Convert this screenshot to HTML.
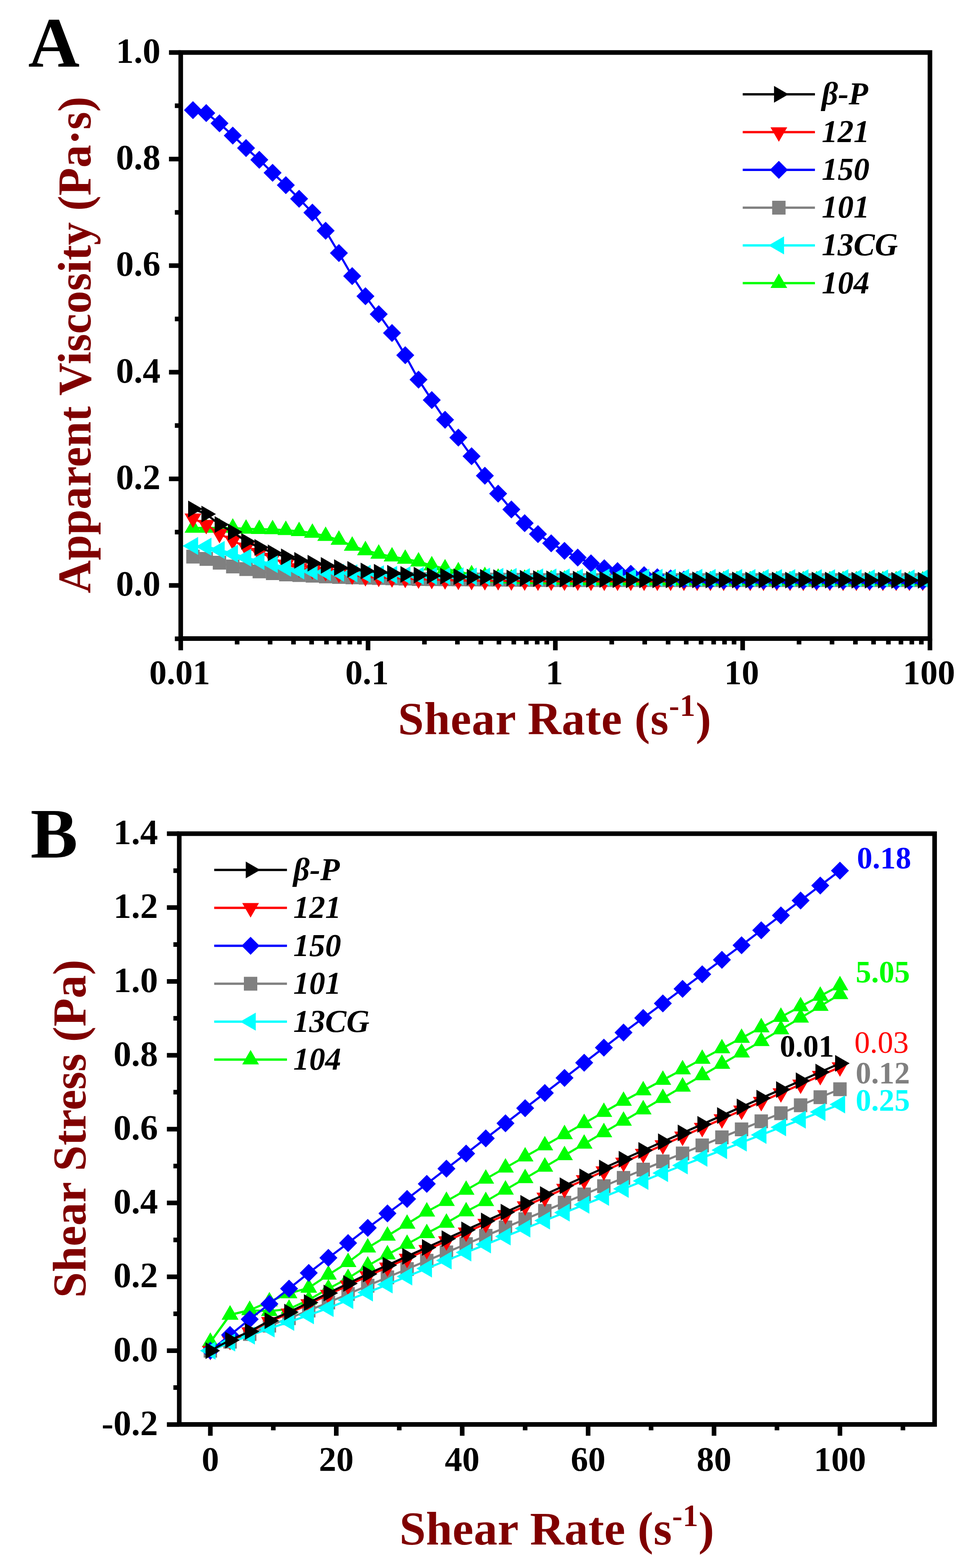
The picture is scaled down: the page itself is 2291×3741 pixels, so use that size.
<!DOCTYPE html><html><head><meta charset="utf-8"><style>html,body{margin:0;padding:0;background:#fff}svg{display:block}text{font-family:"Liberation Serif", "Times New Roman", serif}</style></head><body>
<svg width="2291" height="3741" viewBox="0 0 2291 3741">
<rect width="2291" height="3741" fill="#fff"/>
<clipPath id="ca"><rect x="431.3" y="125.3" width="1788.0000000000002" height="1398.2"/></clipPath>
<g clip-path="url(#ca)">
<polyline fill="none" stroke="#808080" stroke-width="5" stroke-linejoin="round" points="460.5,1328.0 492.2,1333.4 523.8,1342.6 555.5,1351.4 587.2,1357.7 618.8,1363.3 650.5,1367.4 682.1,1370.6 713.8,1371.9 745.5,1373.5 777.1,1375.2 808.8,1376.6 840.5,1377.4 872.1,1378.2 903.8,1379.0 935.5,1379.8 967.1,1380.6 998.8,1381.4 1030.4,1381.7 1062.1,1382.0 1093.8,1382.2 1125.4,1382.5 1157.1,1382.8 1188.8,1383.0 1220.4,1383.3 1252.1,1383.6 1283.8,1383.8 1315.4,1384.0 1347.1,1384.0 1378.7,1384.0 1410.4,1384.0 1442.1,1384.0 1473.7,1384.0 1505.4,1384.0 1537.1,1384.0 1568.7,1384.0 1600.4,1384.0 1632.1,1384.0 1663.7,1384.0 1695.4,1384.0 1727.0,1384.0 1758.7,1384.0 1790.4,1384.0 1822.0,1384.0 1853.7,1384.0 1885.4,1384.0 1917.0,1384.0 1948.7,1384.0 1980.4,1384.0 2012.0,1384.0 2043.7,1384.0 2075.3,1384.0 2107.0,1384.0 2138.7,1384.0 2170.3,1384.0 2202.0,1384.0"/><polygon points="444.5,1311.5 476.5,1311.5 476.5,1344.5 444.5,1344.5" fill="#808080"/><polygon points="476.2,1316.9 508.2,1316.9 508.2,1349.9 476.2,1349.9" fill="#808080"/><polygon points="507.8,1326.1 539.8,1326.1 539.8,1359.1 507.8,1359.1" fill="#808080"/><polygon points="539.5,1334.9 571.5,1334.9 571.5,1367.9 539.5,1367.9" fill="#808080"/><polygon points="571.2,1341.2 603.2,1341.2 603.2,1374.2 571.2,1374.2" fill="#808080"/><polygon points="602.8,1346.8 634.8,1346.8 634.8,1379.8 602.8,1379.8" fill="#808080"/><polygon points="634.5,1350.9 666.5,1350.9 666.5,1383.9 634.5,1383.9" fill="#808080"/><polygon points="666.1,1354.1 698.1,1354.1 698.1,1387.1 666.1,1387.1" fill="#808080"/><polygon points="697.8,1355.4 729.8,1355.4 729.8,1388.4 697.8,1388.4" fill="#808080"/><polygon points="729.5,1357.0 761.5,1357.0 761.5,1390.0 729.5,1390.0" fill="#808080"/><polygon points="761.1,1358.7 793.1,1358.7 793.1,1391.7 761.1,1391.7" fill="#808080"/><polygon points="792.8,1360.1 824.8,1360.1 824.8,1393.1 792.8,1393.1" fill="#808080"/><polygon points="824.5,1360.9 856.5,1360.9 856.5,1393.9 824.5,1393.9" fill="#808080"/><polygon points="856.1,1361.7 888.1,1361.7 888.1,1394.7 856.1,1394.7" fill="#808080"/><polygon points="887.8,1362.5 919.8,1362.5 919.8,1395.5 887.8,1395.5" fill="#808080"/><polygon points="919.5,1363.3 951.5,1363.3 951.5,1396.3 919.5,1396.3" fill="#808080"/><polygon points="951.1,1364.1 983.1,1364.1 983.1,1397.1 951.1,1397.1" fill="#808080"/><polygon points="982.8,1364.9 1014.8,1364.9 1014.8,1397.9 982.8,1397.9" fill="#808080"/><polygon points="1014.4,1365.2 1046.4,1365.2 1046.4,1398.2 1014.4,1398.2" fill="#808080"/><polygon points="1046.1,1365.5 1078.1,1365.5 1078.1,1398.5 1046.1,1398.5" fill="#808080"/><polygon points="1077.8,1365.7 1109.8,1365.7 1109.8,1398.7 1077.8,1398.7" fill="#808080"/><polygon points="1109.4,1366.0 1141.4,1366.0 1141.4,1399.0 1109.4,1399.0" fill="#808080"/><polygon points="1141.1,1366.3 1173.1,1366.3 1173.1,1399.3 1141.1,1399.3" fill="#808080"/><polygon points="1172.8,1366.5 1204.8,1366.5 1204.8,1399.5 1172.8,1399.5" fill="#808080"/><polygon points="1204.4,1366.8 1236.4,1366.8 1236.4,1399.8 1204.4,1399.8" fill="#808080"/><polygon points="1236.1,1367.1 1268.1,1367.1 1268.1,1400.1 1236.1,1400.1" fill="#808080"/><polygon points="1267.8,1367.3 1299.8,1367.3 1299.8,1400.3 1267.8,1400.3" fill="#808080"/><polygon points="1299.4,1367.5 1331.4,1367.5 1331.4,1400.5 1299.4,1400.5" fill="#808080"/><polygon points="1331.1,1367.5 1363.1,1367.5 1363.1,1400.5 1331.1,1400.5" fill="#808080"/><polygon points="1362.7,1367.5 1394.7,1367.5 1394.7,1400.5 1362.7,1400.5" fill="#808080"/><polygon points="1394.4,1367.5 1426.4,1367.5 1426.4,1400.5 1394.4,1400.5" fill="#808080"/><polygon points="1426.1,1367.5 1458.1,1367.5 1458.1,1400.5 1426.1,1400.5" fill="#808080"/><polygon points="1457.7,1367.5 1489.7,1367.5 1489.7,1400.5 1457.7,1400.5" fill="#808080"/><polygon points="1489.4,1367.5 1521.4,1367.5 1521.4,1400.5 1489.4,1400.5" fill="#808080"/><polygon points="1521.1,1367.5 1553.1,1367.5 1553.1,1400.5 1521.1,1400.5" fill="#808080"/><polygon points="1552.7,1367.5 1584.7,1367.5 1584.7,1400.5 1552.7,1400.5" fill="#808080"/><polygon points="1584.4,1367.5 1616.4,1367.5 1616.4,1400.5 1584.4,1400.5" fill="#808080"/><polygon points="1616.1,1367.5 1648.1,1367.5 1648.1,1400.5 1616.1,1400.5" fill="#808080"/><polygon points="1647.7,1367.5 1679.7,1367.5 1679.7,1400.5 1647.7,1400.5" fill="#808080"/><polygon points="1679.4,1367.5 1711.4,1367.5 1711.4,1400.5 1679.4,1400.5" fill="#808080"/><polygon points="1711.0,1367.5 1743.0,1367.5 1743.0,1400.5 1711.0,1400.5" fill="#808080"/><polygon points="1742.7,1367.5 1774.7,1367.5 1774.7,1400.5 1742.7,1400.5" fill="#808080"/><polygon points="1774.4,1367.5 1806.4,1367.5 1806.4,1400.5 1774.4,1400.5" fill="#808080"/><polygon points="1806.0,1367.5 1838.0,1367.5 1838.0,1400.5 1806.0,1400.5" fill="#808080"/><polygon points="1837.7,1367.5 1869.7,1367.5 1869.7,1400.5 1837.7,1400.5" fill="#808080"/><polygon points="1869.4,1367.5 1901.4,1367.5 1901.4,1400.5 1869.4,1400.5" fill="#808080"/><polygon points="1901.0,1367.5 1933.0,1367.5 1933.0,1400.5 1901.0,1400.5" fill="#808080"/><polygon points="1932.7,1367.5 1964.7,1367.5 1964.7,1400.5 1932.7,1400.5" fill="#808080"/><polygon points="1964.4,1367.5 1996.4,1367.5 1996.4,1400.5 1964.4,1400.5" fill="#808080"/><polygon points="1996.0,1367.5 2028.0,1367.5 2028.0,1400.5 1996.0,1400.5" fill="#808080"/><polygon points="2027.7,1367.5 2059.7,1367.5 2059.7,1400.5 2027.7,1400.5" fill="#808080"/><polygon points="2059.3,1367.5 2091.3,1367.5 2091.3,1400.5 2059.3,1400.5" fill="#808080"/><polygon points="2091.0,1367.5 2123.0,1367.5 2123.0,1400.5 2091.0,1400.5" fill="#808080"/><polygon points="2122.7,1367.5 2154.7,1367.5 2154.7,1400.5 2122.7,1400.5" fill="#808080"/><polygon points="2154.3,1367.5 2186.3,1367.5 2186.3,1400.5 2154.3,1400.5" fill="#808080"/><polygon points="2186.0,1367.5 2218.0,1367.5 2218.0,1400.5 2186.0,1400.5" fill="#808080"/>
<polyline fill="none" stroke="#00ff00" stroke-width="5" stroke-linejoin="round" points="460.5,1259.4 492.2,1259.4 523.8,1259.4 555.5,1259.4 587.2,1261.8 618.8,1262.5 650.5,1263.1 682.1,1264.9 713.8,1267.5 745.5,1271.5 777.1,1279.1 808.8,1288.2 840.5,1302.4 872.1,1313.2 903.8,1321.4 935.5,1328.1 967.1,1333.5 998.8,1340.0 1030.4,1349.3 1062.1,1356.7 1093.8,1363.7 1125.4,1370.7 1157.1,1374.9 1188.8,1378.8 1220.4,1380.6 1252.1,1381.3 1283.8,1382.0 1315.4,1382.7 1347.1,1383.4 1378.7,1384.1 1410.4,1384.6 1442.1,1384.7 1473.7,1384.7 1505.4,1384.7 1537.1,1384.7 1568.7,1384.8 1600.4,1384.8 1632.1,1384.8 1663.7,1384.8 1695.4,1384.9 1727.0,1384.9 1758.7,1384.9 1790.4,1384.9 1822.0,1385.0 1853.7,1385.0 1885.4,1385.0 1917.0,1385.0 1948.7,1385.1 1980.4,1385.1 2012.0,1385.1 2043.7,1385.1 2075.3,1385.2 2107.0,1385.2 2138.7,1385.2 2170.3,1385.2 2202.0,1385.3"/><polygon points="440.5,1270.9 480.5,1270.9 460.5,1236.3" fill="#00ff00"/><polygon points="472.2,1270.9 512.2,1270.9 492.2,1236.3" fill="#00ff00"/><polygon points="503.8,1270.9 543.8,1270.9 523.8,1236.3" fill="#00ff00"/><polygon points="535.5,1270.9 575.5,1270.9 555.5,1236.3" fill="#00ff00"/><polygon points="567.2,1273.3 607.2,1273.3 587.2,1238.7" fill="#00ff00"/><polygon points="598.8,1274.0 638.8,1274.0 618.8,1239.4" fill="#00ff00"/><polygon points="630.5,1274.6 670.5,1274.6 650.5,1240.0" fill="#00ff00"/><polygon points="662.1,1276.4 702.1,1276.4 682.1,1241.8" fill="#00ff00"/><polygon points="693.8,1279.0 733.8,1279.0 713.8,1244.4" fill="#00ff00"/><polygon points="725.5,1283.0 765.5,1283.0 745.5,1248.4" fill="#00ff00"/><polygon points="757.1,1290.6 797.1,1290.6 777.1,1256.0" fill="#00ff00"/><polygon points="788.8,1299.7 828.8,1299.7 808.8,1265.1" fill="#00ff00"/><polygon points="820.5,1313.9 860.5,1313.9 840.5,1279.3" fill="#00ff00"/><polygon points="852.1,1324.7 892.1,1324.7 872.1,1290.1" fill="#00ff00"/><polygon points="883.8,1332.9 923.8,1332.9 903.8,1298.3" fill="#00ff00"/><polygon points="915.5,1339.6 955.5,1339.6 935.5,1305.0" fill="#00ff00"/><polygon points="947.1,1345.0 987.1,1345.0 967.1,1310.4" fill="#00ff00"/><polygon points="978.8,1351.5 1018.8,1351.5 998.8,1316.9" fill="#00ff00"/><polygon points="1010.4,1360.8 1050.4,1360.8 1030.4,1326.2" fill="#00ff00"/><polygon points="1042.1,1368.2 1082.1,1368.2 1062.1,1333.6" fill="#00ff00"/><polygon points="1073.8,1375.2 1113.8,1375.2 1093.8,1340.6" fill="#00ff00"/><polygon points="1105.4,1382.2 1145.4,1382.2 1125.4,1347.6" fill="#00ff00"/><polygon points="1137.1,1386.4 1177.1,1386.4 1157.1,1351.8" fill="#00ff00"/><polygon points="1168.8,1390.3 1208.8,1390.3 1188.8,1355.7" fill="#00ff00"/><polygon points="1200.4,1392.1 1240.4,1392.1 1220.4,1357.5" fill="#00ff00"/><polygon points="1232.1,1392.8 1272.1,1392.8 1252.1,1358.2" fill="#00ff00"/><polygon points="1263.8,1393.5 1303.8,1393.5 1283.8,1358.9" fill="#00ff00"/><polygon points="1295.4,1394.2 1335.4,1394.2 1315.4,1359.6" fill="#00ff00"/><polygon points="1327.1,1394.9 1367.1,1394.9 1347.1,1360.3" fill="#00ff00"/><polygon points="1358.7,1395.6 1398.7,1395.6 1378.7,1361.0" fill="#00ff00"/><polygon points="1390.4,1396.1 1430.4,1396.1 1410.4,1361.5" fill="#00ff00"/><polygon points="1422.1,1396.2 1462.1,1396.2 1442.1,1361.6" fill="#00ff00"/><polygon points="1453.7,1396.2 1493.7,1396.2 1473.7,1361.6" fill="#00ff00"/><polygon points="1485.4,1396.2 1525.4,1396.2 1505.4,1361.6" fill="#00ff00"/><polygon points="1517.1,1396.2 1557.1,1396.2 1537.1,1361.6" fill="#00ff00"/><polygon points="1548.7,1396.3 1588.7,1396.3 1568.7,1361.7" fill="#00ff00"/><polygon points="1580.4,1396.3 1620.4,1396.3 1600.4,1361.7" fill="#00ff00"/><polygon points="1612.1,1396.3 1652.1,1396.3 1632.1,1361.7" fill="#00ff00"/><polygon points="1643.7,1396.3 1683.7,1396.3 1663.7,1361.7" fill="#00ff00"/><polygon points="1675.4,1396.4 1715.4,1396.4 1695.4,1361.8" fill="#00ff00"/><polygon points="1707.0,1396.4 1747.0,1396.4 1727.0,1361.8" fill="#00ff00"/><polygon points="1738.7,1396.4 1778.7,1396.4 1758.7,1361.8" fill="#00ff00"/><polygon points="1770.4,1396.4 1810.4,1396.4 1790.4,1361.8" fill="#00ff00"/><polygon points="1802.0,1396.5 1842.0,1396.5 1822.0,1361.9" fill="#00ff00"/><polygon points="1833.7,1396.5 1873.7,1396.5 1853.7,1361.9" fill="#00ff00"/><polygon points="1865.4,1396.5 1905.4,1396.5 1885.4,1361.9" fill="#00ff00"/><polygon points="1897.0,1396.5 1937.0,1396.5 1917.0,1361.9" fill="#00ff00"/><polygon points="1928.7,1396.6 1968.7,1396.6 1948.7,1362.0" fill="#00ff00"/><polygon points="1960.4,1396.6 2000.4,1396.6 1980.4,1362.0" fill="#00ff00"/><polygon points="1992.0,1396.6 2032.0,1396.6 2012.0,1362.0" fill="#00ff00"/><polygon points="2023.7,1396.6 2063.7,1396.6 2043.7,1362.0" fill="#00ff00"/><polygon points="2055.3,1396.7 2095.3,1396.7 2075.3,1362.1" fill="#00ff00"/><polygon points="2087.0,1396.7 2127.0,1396.7 2107.0,1362.1" fill="#00ff00"/><polygon points="2118.7,1396.7 2158.7,1396.7 2138.7,1362.1" fill="#00ff00"/><polygon points="2150.3,1396.7 2190.3,1396.7 2170.3,1362.1" fill="#00ff00"/><polygon points="2182.0,1396.8 2222.0,1396.8 2202.0,1362.2" fill="#00ff00"/>
<polyline fill="none" stroke="#ff0000" stroke-width="5" stroke-linejoin="round" points="460.5,1236.7 492.2,1251.9 523.8,1273.2 555.5,1289.6 587.2,1306.0 618.8,1318.7 650.5,1330.4 682.1,1346.7 713.8,1355.3 745.5,1359.8 777.1,1364.1 808.8,1368.4 840.5,1372.4 872.1,1376.4 903.8,1377.8 935.5,1379.1 967.1,1380.4 998.8,1381.8 1030.4,1382.9 1062.1,1384.0 1093.8,1385.0 1125.4,1385.5 1157.1,1385.8 1188.8,1386.0 1220.4,1386.3 1252.1,1386.6 1283.8,1386.9 1315.4,1387.0 1347.1,1387.0 1378.7,1387.0 1410.4,1387.1 1442.1,1387.1 1473.7,1387.1 1505.4,1387.1 1537.1,1387.1 1568.7,1387.1 1600.4,1387.1 1632.1,1387.1 1663.7,1387.1 1695.4,1387.1 1727.0,1387.1 1758.7,1387.1 1790.4,1387.1 1822.0,1387.1 1853.7,1387.1 1885.4,1387.1 1917.0,1387.1 1948.7,1387.1 1980.4,1387.1 2012.0,1387.1 2043.7,1387.1 2075.3,1387.1 2107.0,1387.1 2138.7,1387.2 2170.3,1387.2 2202.0,1387.2"/><polygon points="440.5,1225.2 480.5,1225.2 460.5,1259.8" fill="#ff0000"/><polygon points="472.2,1240.4 512.2,1240.4 492.2,1275.0" fill="#ff0000"/><polygon points="503.8,1261.7 543.8,1261.7 523.8,1296.3" fill="#ff0000"/><polygon points="535.5,1278.1 575.5,1278.1 555.5,1312.7" fill="#ff0000"/><polygon points="567.2,1294.5 607.2,1294.5 587.2,1329.1" fill="#ff0000"/><polygon points="598.8,1307.2 638.8,1307.2 618.8,1341.8" fill="#ff0000"/><polygon points="630.5,1318.9 670.5,1318.9 650.5,1353.5" fill="#ff0000"/><polygon points="662.1,1335.2 702.1,1335.2 682.1,1369.8" fill="#ff0000"/><polygon points="693.8,1343.8 733.8,1343.8 713.8,1378.4" fill="#ff0000"/><polygon points="725.5,1348.3 765.5,1348.3 745.5,1382.9" fill="#ff0000"/><polygon points="757.1,1352.6 797.1,1352.6 777.1,1387.2" fill="#ff0000"/><polygon points="788.8,1356.9 828.8,1356.9 808.8,1391.5" fill="#ff0000"/><polygon points="820.5,1360.9 860.5,1360.9 840.5,1395.5" fill="#ff0000"/><polygon points="852.1,1364.9 892.1,1364.9 872.1,1399.5" fill="#ff0000"/><polygon points="883.8,1366.3 923.8,1366.3 903.8,1400.9" fill="#ff0000"/><polygon points="915.5,1367.6 955.5,1367.6 935.5,1402.2" fill="#ff0000"/><polygon points="947.1,1368.9 987.1,1368.9 967.1,1403.5" fill="#ff0000"/><polygon points="978.8,1370.3 1018.8,1370.3 998.8,1404.9" fill="#ff0000"/><polygon points="1010.4,1371.4 1050.4,1371.4 1030.4,1406.0" fill="#ff0000"/><polygon points="1042.1,1372.5 1082.1,1372.5 1062.1,1407.1" fill="#ff0000"/><polygon points="1073.8,1373.5 1113.8,1373.5 1093.8,1408.1" fill="#ff0000"/><polygon points="1105.4,1374.0 1145.4,1374.0 1125.4,1408.6" fill="#ff0000"/><polygon points="1137.1,1374.3 1177.1,1374.3 1157.1,1408.9" fill="#ff0000"/><polygon points="1168.8,1374.5 1208.8,1374.5 1188.8,1409.1" fill="#ff0000"/><polygon points="1200.4,1374.8 1240.4,1374.8 1220.4,1409.4" fill="#ff0000"/><polygon points="1232.1,1375.1 1272.1,1375.1 1252.1,1409.7" fill="#ff0000"/><polygon points="1263.8,1375.4 1303.8,1375.4 1283.8,1410.0" fill="#ff0000"/><polygon points="1295.4,1375.5 1335.4,1375.5 1315.4,1410.1" fill="#ff0000"/><polygon points="1327.1,1375.5 1367.1,1375.5 1347.1,1410.1" fill="#ff0000"/><polygon points="1358.7,1375.5 1398.7,1375.5 1378.7,1410.1" fill="#ff0000"/><polygon points="1390.4,1375.6 1430.4,1375.6 1410.4,1410.2" fill="#ff0000"/><polygon points="1422.1,1375.6 1462.1,1375.6 1442.1,1410.2" fill="#ff0000"/><polygon points="1453.7,1375.6 1493.7,1375.6 1473.7,1410.2" fill="#ff0000"/><polygon points="1485.4,1375.6 1525.4,1375.6 1505.4,1410.2" fill="#ff0000"/><polygon points="1517.1,1375.6 1557.1,1375.6 1537.1,1410.2" fill="#ff0000"/><polygon points="1548.7,1375.6 1588.7,1375.6 1568.7,1410.2" fill="#ff0000"/><polygon points="1580.4,1375.6 1620.4,1375.6 1600.4,1410.2" fill="#ff0000"/><polygon points="1612.1,1375.6 1652.1,1375.6 1632.1,1410.2" fill="#ff0000"/><polygon points="1643.7,1375.6 1683.7,1375.6 1663.7,1410.2" fill="#ff0000"/><polygon points="1675.4,1375.6 1715.4,1375.6 1695.4,1410.2" fill="#ff0000"/><polygon points="1707.0,1375.6 1747.0,1375.6 1727.0,1410.2" fill="#ff0000"/><polygon points="1738.7,1375.6 1778.7,1375.6 1758.7,1410.2" fill="#ff0000"/><polygon points="1770.4,1375.6 1810.4,1375.6 1790.4,1410.2" fill="#ff0000"/><polygon points="1802.0,1375.6 1842.0,1375.6 1822.0,1410.2" fill="#ff0000"/><polygon points="1833.7,1375.6 1873.7,1375.6 1853.7,1410.2" fill="#ff0000"/><polygon points="1865.4,1375.6 1905.4,1375.6 1885.4,1410.2" fill="#ff0000"/><polygon points="1897.0,1375.6 1937.0,1375.6 1917.0,1410.2" fill="#ff0000"/><polygon points="1928.7,1375.6 1968.7,1375.6 1948.7,1410.2" fill="#ff0000"/><polygon points="1960.4,1375.6 2000.4,1375.6 1980.4,1410.2" fill="#ff0000"/><polygon points="1992.0,1375.6 2032.0,1375.6 2012.0,1410.2" fill="#ff0000"/><polygon points="2023.7,1375.6 2063.7,1375.6 2043.7,1410.2" fill="#ff0000"/><polygon points="2055.3,1375.6 2095.3,1375.6 2075.3,1410.2" fill="#ff0000"/><polygon points="2087.0,1375.6 2127.0,1375.6 2107.0,1410.2" fill="#ff0000"/><polygon points="2118.7,1375.7 2158.7,1375.7 2138.7,1410.3" fill="#ff0000"/><polygon points="2150.3,1375.7 2190.3,1375.7 2170.3,1410.3" fill="#ff0000"/><polygon points="2182.0,1375.7 2222.0,1375.7 2202.0,1410.3" fill="#ff0000"/>
<polyline fill="none" stroke="#0000ff" stroke-width="5" stroke-linejoin="round" points="460.5,262.7 492.2,269.8 523.8,294.3 555.5,323.4 587.2,353.3 618.8,381.3 650.5,412.3 682.1,441.8 713.8,474.3 745.5,507.3 777.1,550.6 808.8,603.8 840.5,658.7 872.1,706.7 903.8,749.6 935.5,794.4 967.1,847.6 998.8,905.7 1030.4,954.4 1062.1,1001.4 1093.8,1044.1 1125.4,1088.4 1157.1,1135.0 1188.8,1177.7 1220.4,1215.4 1252.1,1248.2 1283.8,1274.2 1315.4,1296.3 1347.1,1314.3 1378.7,1330.3 1410.4,1343.9 1442.1,1355.8 1473.7,1362.6 1505.4,1368.9 1537.1,1372.3 1568.7,1377.3 1600.4,1380.1 1632.1,1382.9 1663.7,1384.0 1695.4,1385.1 1727.0,1385.3 1758.7,1385.4 1790.4,1385.5 1822.0,1385.6 1853.7,1385.6 1885.4,1385.7 1917.0,1385.8 1948.7,1385.9 1980.4,1386.0 2012.0,1386.0 2043.7,1386.1 2075.3,1386.2 2107.0,1386.3 2138.7,1386.4 2170.3,1386.4 2202.0,1386.5"/><polygon points="460.5,241.2 482.0,262.7 460.5,284.2 439.0,262.7" fill="#0000ff"/><polygon points="492.2,248.3 513.7,269.8 492.2,291.3 470.7,269.8" fill="#0000ff"/><polygon points="523.8,272.8 545.3,294.3 523.8,315.8 502.3,294.3" fill="#0000ff"/><polygon points="555.5,301.9 577.0,323.4 555.5,344.9 534.0,323.4" fill="#0000ff"/><polygon points="587.2,331.8 608.7,353.3 587.2,374.8 565.7,353.3" fill="#0000ff"/><polygon points="618.8,359.8 640.3,381.3 618.8,402.8 597.3,381.3" fill="#0000ff"/><polygon points="650.5,390.8 672.0,412.3 650.5,433.8 629.0,412.3" fill="#0000ff"/><polygon points="682.1,420.3 703.6,441.8 682.1,463.3 660.6,441.8" fill="#0000ff"/><polygon points="713.8,452.8 735.3,474.3 713.8,495.8 692.3,474.3" fill="#0000ff"/><polygon points="745.5,485.8 767.0,507.3 745.5,528.8 724.0,507.3" fill="#0000ff"/><polygon points="777.1,529.1 798.6,550.6 777.1,572.1 755.6,550.6" fill="#0000ff"/><polygon points="808.8,582.3 830.3,603.8 808.8,625.3 787.3,603.8" fill="#0000ff"/><polygon points="840.5,637.2 862.0,658.7 840.5,680.2 819.0,658.7" fill="#0000ff"/><polygon points="872.1,685.2 893.6,706.7 872.1,728.2 850.6,706.7" fill="#0000ff"/><polygon points="903.8,728.1 925.3,749.6 903.8,771.1 882.3,749.6" fill="#0000ff"/><polygon points="935.5,772.9 957.0,794.4 935.5,815.9 914.0,794.4" fill="#0000ff"/><polygon points="967.1,826.1 988.6,847.6 967.1,869.1 945.6,847.6" fill="#0000ff"/><polygon points="998.8,884.2 1020.3,905.7 998.8,927.2 977.3,905.7" fill="#0000ff"/><polygon points="1030.4,932.9 1051.9,954.4 1030.4,975.9 1008.9,954.4" fill="#0000ff"/><polygon points="1062.1,979.9 1083.6,1001.4 1062.1,1022.9 1040.6,1001.4" fill="#0000ff"/><polygon points="1093.8,1022.6 1115.3,1044.1 1093.8,1065.6 1072.3,1044.1" fill="#0000ff"/><polygon points="1125.4,1066.9 1146.9,1088.4 1125.4,1109.9 1103.9,1088.4" fill="#0000ff"/><polygon points="1157.1,1113.5 1178.6,1135.0 1157.1,1156.5 1135.6,1135.0" fill="#0000ff"/><polygon points="1188.8,1156.2 1210.3,1177.7 1188.8,1199.2 1167.3,1177.7" fill="#0000ff"/><polygon points="1220.4,1193.9 1241.9,1215.4 1220.4,1236.9 1198.9,1215.4" fill="#0000ff"/><polygon points="1252.1,1226.7 1273.6,1248.2 1252.1,1269.7 1230.6,1248.2" fill="#0000ff"/><polygon points="1283.8,1252.7 1305.3,1274.2 1283.8,1295.7 1262.3,1274.2" fill="#0000ff"/><polygon points="1315.4,1274.8 1336.9,1296.3 1315.4,1317.8 1293.9,1296.3" fill="#0000ff"/><polygon points="1347.1,1292.8 1368.6,1314.3 1347.1,1335.8 1325.6,1314.3" fill="#0000ff"/><polygon points="1378.7,1308.8 1400.2,1330.3 1378.7,1351.8 1357.2,1330.3" fill="#0000ff"/><polygon points="1410.4,1322.4 1431.9,1343.9 1410.4,1365.4 1388.9,1343.9" fill="#0000ff"/><polygon points="1442.1,1334.3 1463.6,1355.8 1442.1,1377.3 1420.6,1355.8" fill="#0000ff"/><polygon points="1473.7,1341.1 1495.2,1362.6 1473.7,1384.1 1452.2,1362.6" fill="#0000ff"/><polygon points="1505.4,1347.4 1526.9,1368.9 1505.4,1390.4 1483.9,1368.9" fill="#0000ff"/><polygon points="1537.1,1350.8 1558.6,1372.3 1537.1,1393.8 1515.6,1372.3" fill="#0000ff"/><polygon points="1568.7,1355.8 1590.2,1377.3 1568.7,1398.8 1547.2,1377.3" fill="#0000ff"/><polygon points="1600.4,1358.6 1621.9,1380.1 1600.4,1401.6 1578.9,1380.1" fill="#0000ff"/><polygon points="1632.1,1361.4 1653.6,1382.9 1632.1,1404.4 1610.6,1382.9" fill="#0000ff"/><polygon points="1663.7,1362.5 1685.2,1384.0 1663.7,1405.5 1642.2,1384.0" fill="#0000ff"/><polygon points="1695.4,1363.6 1716.9,1385.1 1695.4,1406.6 1673.9,1385.1" fill="#0000ff"/><polygon points="1727.0,1363.8 1748.5,1385.3 1727.0,1406.8 1705.5,1385.3" fill="#0000ff"/><polygon points="1758.7,1363.9 1780.2,1385.4 1758.7,1406.9 1737.2,1385.4" fill="#0000ff"/><polygon points="1790.4,1364.0 1811.9,1385.5 1790.4,1407.0 1768.9,1385.5" fill="#0000ff"/><polygon points="1822.0,1364.1 1843.5,1385.6 1822.0,1407.1 1800.5,1385.6" fill="#0000ff"/><polygon points="1853.7,1364.1 1875.2,1385.6 1853.7,1407.1 1832.2,1385.6" fill="#0000ff"/><polygon points="1885.4,1364.2 1906.9,1385.7 1885.4,1407.2 1863.9,1385.7" fill="#0000ff"/><polygon points="1917.0,1364.3 1938.5,1385.8 1917.0,1407.3 1895.5,1385.8" fill="#0000ff"/><polygon points="1948.7,1364.4 1970.2,1385.9 1948.7,1407.4 1927.2,1385.9" fill="#0000ff"/><polygon points="1980.4,1364.5 2001.9,1386.0 1980.4,1407.5 1958.9,1386.0" fill="#0000ff"/><polygon points="2012.0,1364.5 2033.5,1386.0 2012.0,1407.5 1990.5,1386.0" fill="#0000ff"/><polygon points="2043.7,1364.6 2065.2,1386.1 2043.7,1407.6 2022.2,1386.1" fill="#0000ff"/><polygon points="2075.3,1364.7 2096.8,1386.2 2075.3,1407.7 2053.8,1386.2" fill="#0000ff"/><polygon points="2107.0,1364.8 2128.5,1386.3 2107.0,1407.8 2085.5,1386.3" fill="#0000ff"/><polygon points="2138.7,1364.9 2160.2,1386.4 2138.7,1407.9 2117.2,1386.4" fill="#0000ff"/><polygon points="2170.3,1364.9 2191.8,1386.4 2170.3,1407.9 2148.8,1386.4" fill="#0000ff"/><polygon points="2202.0,1365.0 2223.5,1386.5 2202.0,1408.0 2180.5,1386.5" fill="#0000ff"/>
<polyline fill="none" stroke="#00ffff" stroke-width="5" stroke-linejoin="round" points="460.5,1302.6 492.2,1304.3 523.8,1312.0 555.5,1321.0 587.2,1330.5 618.8,1338.7 650.5,1345.7 682.1,1354.5 713.8,1361.1 745.5,1363.0 777.1,1364.8 808.8,1366.5 840.5,1367.7 872.1,1368.9 903.8,1370.1 935.5,1371.4 967.1,1372.6 998.8,1373.8 1030.4,1374.2 1062.1,1374.6 1093.8,1375.0 1125.4,1375.4 1157.1,1375.8 1188.8,1376.2 1220.4,1376.6 1252.1,1377.0 1283.8,1377.4 1315.4,1377.7 1347.1,1377.8 1378.7,1377.8 1410.4,1377.9 1442.1,1378.0 1473.7,1378.1 1505.4,1378.2 1537.1,1378.3 1568.7,1378.4 1600.4,1378.5 1632.1,1378.6 1663.7,1378.6 1695.4,1378.7 1727.0,1378.8 1758.7,1378.9 1790.4,1379.0 1822.0,1379.1 1853.7,1379.2 1885.4,1379.3 1917.0,1379.4 1948.7,1379.5 1980.4,1379.5 2012.0,1379.6 2043.7,1379.7 2075.3,1379.8 2107.0,1379.9 2138.7,1380.0 2170.3,1380.1 2202.0,1380.2"/><polygon points="472.9,1281.1 435.7,1302.6 472.9,1324.1" fill="#00ffff"/><polygon points="504.6,1282.8 467.4,1304.3 504.6,1325.8" fill="#00ffff"/><polygon points="536.2,1290.5 499.0,1312.0 536.2,1333.5" fill="#00ffff"/><polygon points="567.9,1299.5 530.7,1321.0 567.9,1342.5" fill="#00ffff"/><polygon points="599.6,1309.0 562.4,1330.5 599.6,1352.0" fill="#00ffff"/><polygon points="631.2,1317.2 594.0,1338.7 631.2,1360.2" fill="#00ffff"/><polygon points="662.9,1324.2 625.7,1345.7 662.9,1367.2" fill="#00ffff"/><polygon points="694.5,1333.0 657.3,1354.5 694.5,1376.0" fill="#00ffff"/><polygon points="726.2,1339.6 689.0,1361.1 726.2,1382.6" fill="#00ffff"/><polygon points="757.9,1341.5 720.7,1363.0 757.9,1384.5" fill="#00ffff"/><polygon points="789.5,1343.3 752.3,1364.8 789.5,1386.3" fill="#00ffff"/><polygon points="821.2,1345.0 784.0,1366.5 821.2,1388.0" fill="#00ffff"/><polygon points="852.9,1346.2 815.7,1367.7 852.9,1389.2" fill="#00ffff"/><polygon points="884.5,1347.4 847.3,1368.9 884.5,1390.4" fill="#00ffff"/><polygon points="916.2,1348.6 879.0,1370.1 916.2,1391.6" fill="#00ffff"/><polygon points="947.9,1349.9 910.7,1371.4 947.9,1392.9" fill="#00ffff"/><polygon points="979.5,1351.1 942.3,1372.6 979.5,1394.1" fill="#00ffff"/><polygon points="1011.2,1352.3 974.0,1373.8 1011.2,1395.3" fill="#00ffff"/><polygon points="1042.8,1352.7 1005.6,1374.2 1042.8,1395.7" fill="#00ffff"/><polygon points="1074.5,1353.1 1037.3,1374.6 1074.5,1396.1" fill="#00ffff"/><polygon points="1106.2,1353.5 1069.0,1375.0 1106.2,1396.5" fill="#00ffff"/><polygon points="1137.8,1353.9 1100.6,1375.4 1137.8,1396.9" fill="#00ffff"/><polygon points="1169.5,1354.3 1132.3,1375.8 1169.5,1397.3" fill="#00ffff"/><polygon points="1201.2,1354.7 1164.0,1376.2 1201.2,1397.7" fill="#00ffff"/><polygon points="1232.8,1355.1 1195.6,1376.6 1232.8,1398.1" fill="#00ffff"/><polygon points="1264.5,1355.5 1227.3,1377.0 1264.5,1398.5" fill="#00ffff"/><polygon points="1296.2,1355.9 1259.0,1377.4 1296.2,1398.9" fill="#00ffff"/><polygon points="1327.8,1356.2 1290.6,1377.7 1327.8,1399.2" fill="#00ffff"/><polygon points="1359.5,1356.3 1322.3,1377.8 1359.5,1399.3" fill="#00ffff"/><polygon points="1391.1,1356.3 1353.9,1377.8 1391.1,1399.3" fill="#00ffff"/><polygon points="1422.8,1356.4 1385.6,1377.9 1422.8,1399.4" fill="#00ffff"/><polygon points="1454.5,1356.5 1417.3,1378.0 1454.5,1399.5" fill="#00ffff"/><polygon points="1486.1,1356.6 1448.9,1378.1 1486.1,1399.6" fill="#00ffff"/><polygon points="1517.8,1356.7 1480.6,1378.2 1517.8,1399.7" fill="#00ffff"/><polygon points="1549.5,1356.8 1512.3,1378.3 1549.5,1399.8" fill="#00ffff"/><polygon points="1581.1,1356.9 1543.9,1378.4 1581.1,1399.9" fill="#00ffff"/><polygon points="1612.8,1357.0 1575.6,1378.5 1612.8,1400.0" fill="#00ffff"/><polygon points="1644.5,1357.1 1607.3,1378.6 1644.5,1400.1" fill="#00ffff"/><polygon points="1676.1,1357.1 1638.9,1378.6 1676.1,1400.1" fill="#00ffff"/><polygon points="1707.8,1357.2 1670.6,1378.7 1707.8,1400.2" fill="#00ffff"/><polygon points="1739.4,1357.3 1702.2,1378.8 1739.4,1400.3" fill="#00ffff"/><polygon points="1771.1,1357.4 1733.9,1378.9 1771.1,1400.4" fill="#00ffff"/><polygon points="1802.8,1357.5 1765.6,1379.0 1802.8,1400.5" fill="#00ffff"/><polygon points="1834.4,1357.6 1797.2,1379.1 1834.4,1400.6" fill="#00ffff"/><polygon points="1866.1,1357.7 1828.9,1379.2 1866.1,1400.7" fill="#00ffff"/><polygon points="1897.8,1357.8 1860.6,1379.3 1897.8,1400.8" fill="#00ffff"/><polygon points="1929.4,1357.9 1892.2,1379.4 1929.4,1400.9" fill="#00ffff"/><polygon points="1961.1,1358.0 1923.9,1379.5 1961.1,1401.0" fill="#00ffff"/><polygon points="1992.8,1358.0 1955.6,1379.5 1992.8,1401.0" fill="#00ffff"/><polygon points="2024.4,1358.1 1987.2,1379.6 2024.4,1401.1" fill="#00ffff"/><polygon points="2056.1,1358.2 2018.9,1379.7 2056.1,1401.2" fill="#00ffff"/><polygon points="2087.7,1358.3 2050.5,1379.8 2087.7,1401.3" fill="#00ffff"/><polygon points="2119.4,1358.4 2082.2,1379.9 2119.4,1401.4" fill="#00ffff"/><polygon points="2151.1,1358.5 2113.9,1380.0 2151.1,1401.5" fill="#00ffff"/><polygon points="2182.7,1358.6 2145.5,1380.1 2182.7,1401.6" fill="#00ffff"/><polygon points="2214.4,1358.7 2177.2,1380.2 2214.4,1401.7" fill="#00ffff"/>
<polyline fill="none" stroke="#000000" stroke-width="5" stroke-linejoin="round" points="460.5,1214.2 492.2,1226.4 523.8,1251.6 555.5,1269.3 587.2,1291.8 618.8,1305.9 650.5,1318.9 682.1,1328.5 713.8,1337.0 745.5,1343.7 777.1,1349.0 808.8,1354.2 840.5,1358.4 872.1,1362.3 903.8,1365.2 935.5,1367.8 967.1,1370.6 998.8,1372.2 1030.4,1373.4 1062.1,1374.8 1093.8,1376.1 1125.4,1376.9 1157.1,1377.6 1188.8,1378.3 1220.4,1379.0 1252.1,1379.7 1283.8,1380.4 1315.4,1381.0 1347.1,1381.4 1378.7,1381.8 1410.4,1382.2 1442.1,1382.6 1473.7,1383.0 1505.4,1383.4 1537.1,1383.4 1568.7,1383.5 1600.4,1383.5 1632.1,1383.6 1663.7,1383.6 1695.4,1383.7 1727.0,1383.7 1758.7,1383.8 1790.4,1383.8 1822.0,1383.9 1853.7,1383.9 1885.4,1384.0 1917.0,1384.0 1948.7,1384.1 1980.4,1384.1 2012.0,1384.2 2043.7,1384.2 2075.3,1384.3 2107.0,1384.3 2138.7,1384.4 2170.3,1384.4 2202.0,1384.5"/><polygon points="449.0,1194.2 483.6,1214.2 449.0,1234.2" fill="#000000"/><polygon points="480.7,1206.4 515.3,1226.4 480.7,1246.4" fill="#000000"/><polygon points="512.3,1231.6 546.9,1251.6 512.3,1271.6" fill="#000000"/><polygon points="544.0,1249.3 578.6,1269.3 544.0,1289.3" fill="#000000"/><polygon points="575.7,1271.8 610.3,1291.8 575.7,1311.8" fill="#000000"/><polygon points="607.3,1285.9 641.9,1305.9 607.3,1325.9" fill="#000000"/><polygon points="639.0,1298.9 673.6,1318.9 639.0,1338.9" fill="#000000"/><polygon points="670.6,1308.5 705.2,1328.5 670.6,1348.5" fill="#000000"/><polygon points="702.3,1317.0 736.9,1337.0 702.3,1357.0" fill="#000000"/><polygon points="734.0,1323.7 768.6,1343.7 734.0,1363.7" fill="#000000"/><polygon points="765.6,1329.0 800.2,1349.0 765.6,1369.0" fill="#000000"/><polygon points="797.3,1334.2 831.9,1354.2 797.3,1374.2" fill="#000000"/><polygon points="829.0,1338.4 863.6,1358.4 829.0,1378.4" fill="#000000"/><polygon points="860.6,1342.3 895.2,1362.3 860.6,1382.3" fill="#000000"/><polygon points="892.3,1345.2 926.9,1365.2 892.3,1385.2" fill="#000000"/><polygon points="924.0,1347.8 958.6,1367.8 924.0,1387.8" fill="#000000"/><polygon points="955.6,1350.6 990.2,1370.6 955.6,1390.6" fill="#000000"/><polygon points="987.3,1352.2 1021.9,1372.2 987.3,1392.2" fill="#000000"/><polygon points="1018.9,1353.4 1053.5,1373.4 1018.9,1393.4" fill="#000000"/><polygon points="1050.6,1354.8 1085.2,1374.8 1050.6,1394.8" fill="#000000"/><polygon points="1082.3,1356.1 1116.9,1376.1 1082.3,1396.1" fill="#000000"/><polygon points="1113.9,1356.9 1148.5,1376.9 1113.9,1396.9" fill="#000000"/><polygon points="1145.6,1357.6 1180.2,1377.6 1145.6,1397.6" fill="#000000"/><polygon points="1177.3,1358.3 1211.9,1378.3 1177.3,1398.3" fill="#000000"/><polygon points="1208.9,1359.0 1243.5,1379.0 1208.9,1399.0" fill="#000000"/><polygon points="1240.6,1359.7 1275.2,1379.7 1240.6,1399.7" fill="#000000"/><polygon points="1272.3,1360.4 1306.9,1380.4 1272.3,1400.4" fill="#000000"/><polygon points="1303.9,1361.0 1338.5,1381.0 1303.9,1401.0" fill="#000000"/><polygon points="1335.6,1361.4 1370.2,1381.4 1335.6,1401.4" fill="#000000"/><polygon points="1367.2,1361.8 1401.8,1381.8 1367.2,1401.8" fill="#000000"/><polygon points="1398.9,1362.2 1433.5,1382.2 1398.9,1402.2" fill="#000000"/><polygon points="1430.6,1362.6 1465.2,1382.6 1430.6,1402.6" fill="#000000"/><polygon points="1462.2,1363.0 1496.8,1383.0 1462.2,1403.0" fill="#000000"/><polygon points="1493.9,1363.4 1528.5,1383.4 1493.9,1403.4" fill="#000000"/><polygon points="1525.6,1363.4 1560.2,1383.4 1525.6,1403.4" fill="#000000"/><polygon points="1557.2,1363.5 1591.8,1383.5 1557.2,1403.5" fill="#000000"/><polygon points="1588.9,1363.5 1623.5,1383.5 1588.9,1403.5" fill="#000000"/><polygon points="1620.6,1363.6 1655.2,1383.6 1620.6,1403.6" fill="#000000"/><polygon points="1652.2,1363.6 1686.8,1383.6 1652.2,1403.6" fill="#000000"/><polygon points="1683.9,1363.7 1718.5,1383.7 1683.9,1403.7" fill="#000000"/><polygon points="1715.5,1363.7 1750.1,1383.7 1715.5,1403.7" fill="#000000"/><polygon points="1747.2,1363.8 1781.8,1383.8 1747.2,1403.8" fill="#000000"/><polygon points="1778.9,1363.8 1813.5,1383.8 1778.9,1403.8" fill="#000000"/><polygon points="1810.5,1363.9 1845.1,1383.9 1810.5,1403.9" fill="#000000"/><polygon points="1842.2,1363.9 1876.8,1383.9 1842.2,1403.9" fill="#000000"/><polygon points="1873.9,1364.0 1908.5,1384.0 1873.9,1404.0" fill="#000000"/><polygon points="1905.5,1364.0 1940.1,1384.0 1905.5,1404.0" fill="#000000"/><polygon points="1937.2,1364.1 1971.8,1384.1 1937.2,1404.1" fill="#000000"/><polygon points="1968.9,1364.1 2003.5,1384.1 1968.9,1404.1" fill="#000000"/><polygon points="2000.5,1364.2 2035.1,1384.2 2000.5,1404.2" fill="#000000"/><polygon points="2032.2,1364.2 2066.8,1384.2 2032.2,1404.2" fill="#000000"/><polygon points="2063.8,1364.3 2098.4,1384.3 2063.8,1404.3" fill="#000000"/><polygon points="2095.5,1364.3 2130.1,1384.3 2095.5,1404.3" fill="#000000"/><polygon points="2127.2,1364.4 2161.8,1384.4 2127.2,1404.4" fill="#000000"/><polygon points="2158.8,1364.4 2193.4,1384.4 2158.8,1404.4" fill="#000000"/><polygon points="2190.5,1364.5 2225.1,1384.5 2190.5,1404.5" fill="#000000"/>
</g>
<path d="M431.3,125.3H2219.3V1523.5H431.3Z" fill="none" stroke="#000" stroke-width="11" stroke-linejoin="miter"/>
<path d="M403.3,1396.7H431.3M403.3,1142.4H431.3M403.3,888.1H431.3M403.3,633.8H431.3M403.3,379.5H431.3M403.3,125.2H431.3M417.3,252.3H431.3M417.3,506.7H431.3M417.3,761.0H431.3M417.3,1015.2H431.3M417.3,1269.5H431.3M417.3,1523.9H431.3M431.3,1523.5V1551.5M565.9,1523.5V1537.5M644.6,1523.5V1537.5M700.4,1523.5V1537.5M743.7,1523.5V1537.5M779.1,1523.5V1537.5M809.1,1523.5V1537.5M835.0,1523.5V1537.5M857.8,1523.5V1537.5M878.3,1523.5V1551.5M1012.9,1523.5V1537.5M1091.6,1523.5V1537.5M1147.4,1523.5V1537.5M1190.7,1523.5V1537.5M1226.1,1523.5V1537.5M1256.1,1523.5V1537.5M1282.0,1523.5V1537.5M1304.8,1523.5V1537.5M1325.3,1523.5V1551.5M1459.9,1523.5V1537.5M1538.6,1523.5V1537.5M1594.4,1523.5V1537.5M1637.7,1523.5V1537.5M1673.1,1523.5V1537.5M1703.1,1523.5V1537.5M1729.0,1523.5V1537.5M1751.8,1523.5V1537.5M1772.3,1523.5V1551.5M1906.9,1523.5V1537.5M1985.6,1523.5V1537.5M2041.4,1523.5V1537.5M2084.7,1523.5V1537.5M2120.1,1523.5V1537.5M2150.1,1523.5V1537.5M2176.0,1523.5V1537.5M2198.8,1523.5V1537.5M2219.3,1523.5V1551.5" fill="none" stroke="#000" stroke-width="11" stroke-linecap="butt"/>
<text x="383.0" y="1421.3" font-size="85" text-anchor="end" font-weight="bold" font-style="normal" fill="#000" >0.0</text>
<text x="383.0" y="1167.0" font-size="85" text-anchor="end" font-weight="bold" font-style="normal" fill="#000" >0.2</text>
<text x="383.0" y="912.7" font-size="85" text-anchor="end" font-weight="bold" font-style="normal" fill="#000" >0.4</text>
<text x="383.0" y="658.4" font-size="85" text-anchor="end" font-weight="bold" font-style="normal" fill="#000" >0.6</text>
<text x="383.0" y="404.1" font-size="85" text-anchor="end" font-weight="bold" font-style="normal" fill="#000" >0.8</text>
<text x="383.0" y="149.8" font-size="85" text-anchor="end" font-weight="bold" font-style="normal" fill="#000" >1.0</text>
<text x="428.9" y="1632.0" font-size="83" text-anchor="middle" font-weight="bold" font-style="normal" fill="#000" >0.01</text>
<text x="875.9" y="1632.0" font-size="83" text-anchor="middle" font-weight="bold" font-style="normal" fill="#000" >0.1</text>
<text x="1322.9" y="1632.0" font-size="83" text-anchor="middle" font-weight="bold" font-style="normal" fill="#000" >1</text>
<text x="1769.9" y="1632.0" font-size="83" text-anchor="middle" font-weight="bold" font-style="normal" fill="#000" >10</text>
<text x="2216.9" y="1632.0" font-size="83" text-anchor="middle" font-weight="bold" font-style="normal" fill="#000" >100</text>
<text x="67.2" y="158.7" font-size="170" text-anchor="start" font-weight="bold" font-style="normal" fill="#000" >A</text>
<text x="1324.0" y="1752.0" font-size="111" text-anchor="middle" font-weight="bold" font-style="normal" fill="#800000" letter-spacing="1.05">Shear Rate (s<tspan dy="-44" font-size="74">-1</tspan><tspan dy="44">)</tspan></text>
<text transform="translate(215.6,823) rotate(-90)" x="0" y="0" font-size="113" text-anchor="middle" font-weight="bold" fill="#800000" textLength="1185" lengthAdjust="spacingAndGlyphs">Apparent Viscosity (Pa·s)</text>
<line x1="1772.5" y1="225.1" x2="1944.8" y2="225.1" stroke="#000000" stroke-width="5.5"/>
<polygon points="1847.2,205.1 1881.8,225.1 1847.2,245.1" fill="#000000"/>
<text x="1961.0" y="249.0" font-size="76" text-anchor="start" font-weight="bold" font-style="italic" fill="#000" >β-P</text>
<line x1="1772.5" y1="315.2" x2="1944.8" y2="315.2" stroke="#ff0000" stroke-width="5.5"/>
<polygon points="1838.7,303.7 1878.7,303.7 1858.7,338.3" fill="#ff0000"/>
<text x="1961.0" y="339.1" font-size="76" text-anchor="start" font-weight="bold" font-style="italic" fill="#000" >121</text>
<line x1="1772.5" y1="405.3" x2="1944.8" y2="405.3" stroke="#0000ff" stroke-width="5.5"/>
<polygon points="1858.7,383.8 1880.2,405.3 1858.7,426.8 1837.2,405.3" fill="#0000ff"/>
<text x="1961.0" y="429.2" font-size="76" text-anchor="start" font-weight="bold" font-style="italic" fill="#000" >150</text>
<line x1="1772.5" y1="495.4" x2="1944.8" y2="495.4" stroke="#808080" stroke-width="5.5"/>
<polygon points="1842.7,478.9 1874.7,478.9 1874.7,511.9 1842.7,511.9" fill="#808080"/>
<text x="1961.0" y="519.3" font-size="76" text-anchor="start" font-weight="bold" font-style="italic" fill="#000" >101</text>
<line x1="1772.5" y1="585.5" x2="1944.8" y2="585.5" stroke="#00ffff" stroke-width="5.5"/>
<polygon points="1871.1,564.0 1833.9,585.5 1871.1,607.0" fill="#00ffff"/>
<text x="1961.0" y="609.4" font-size="76" text-anchor="start" font-weight="bold" font-style="italic" fill="#000" >13CG</text>
<line x1="1772.5" y1="675.6" x2="1944.8" y2="675.6" stroke="#00ff00" stroke-width="5.5"/>
<polygon points="1838.7,687.1 1878.7,687.1 1858.7,652.5" fill="#00ff00"/>
<text x="1961.0" y="699.5" font-size="76" text-anchor="start" font-weight="bold" font-style="italic" fill="#000" >104</text>
<clipPath id="cb"><rect x="427.8" y="1989.0" width="1802.6000000000001" height="1409.5"/></clipPath>
<g clip-path="url(#cb)">
<polyline fill="none" stroke="#808080" stroke-width="5" stroke-linejoin="round" points="502.0,3222.5 549.0,3201.0 595.9,3182.8 642.9,3162.8 689.8,3145.1 736.8,3126.7 783.7,3107.5 830.7,3087.2 877.6,3067.4 924.6,3047.5 971.5,3027.7 1018.5,3007.9 1065.4,2988.1 1112.4,2968.2 1159.3,2948.4 1206.3,2928.6 1253.2,2908.7 1300.2,2889.1 1347.2,2869.4 1394.1,2849.7 1441.1,2830.0 1488.0,2810.3 1535.0,2790.6 1581.9,2771.1 1628.9,2751.9 1675.8,2732.8 1722.8,2713.6 1769.7,2694.4 1816.7,2675.3 1863.6,2656.1 1910.6,2637.0 1957.5,2617.8 2004.5,2598.7"/><polygon points="486.0,3206.0 518.0,3206.0 518.0,3239.0 486.0,3239.0" fill="#808080"/><polygon points="533.0,3184.5 565.0,3184.5 565.0,3217.5 533.0,3217.5" fill="#808080"/><polygon points="579.9,3166.3 611.9,3166.3 611.9,3199.3 579.9,3199.3" fill="#808080"/><polygon points="626.9,3146.3 658.9,3146.3 658.9,3179.3 626.9,3179.3" fill="#808080"/><polygon points="673.8,3128.6 705.8,3128.6 705.8,3161.6 673.8,3161.6" fill="#808080"/><polygon points="720.8,3110.2 752.8,3110.2 752.8,3143.2 720.8,3143.2" fill="#808080"/><polygon points="767.7,3091.0 799.7,3091.0 799.7,3124.0 767.7,3124.0" fill="#808080"/><polygon points="814.7,3070.7 846.7,3070.7 846.7,3103.7 814.7,3103.7" fill="#808080"/><polygon points="861.6,3050.9 893.6,3050.9 893.6,3083.9 861.6,3083.9" fill="#808080"/><polygon points="908.6,3031.0 940.6,3031.0 940.6,3064.0 908.6,3064.0" fill="#808080"/><polygon points="955.5,3011.2 987.5,3011.2 987.5,3044.2 955.5,3044.2" fill="#808080"/><polygon points="1002.5,2991.4 1034.5,2991.4 1034.5,3024.4 1002.5,3024.4" fill="#808080"/><polygon points="1049.4,2971.6 1081.4,2971.6 1081.4,3004.6 1049.4,3004.6" fill="#808080"/><polygon points="1096.4,2951.7 1128.4,2951.7 1128.4,2984.7 1096.4,2984.7" fill="#808080"/><polygon points="1143.3,2931.9 1175.3,2931.9 1175.3,2964.9 1143.3,2964.9" fill="#808080"/><polygon points="1190.3,2912.1 1222.3,2912.1 1222.3,2945.1 1190.3,2945.1" fill="#808080"/><polygon points="1237.2,2892.2 1269.2,2892.2 1269.2,2925.2 1237.2,2925.2" fill="#808080"/><polygon points="1284.2,2872.6 1316.2,2872.6 1316.2,2905.6 1284.2,2905.6" fill="#808080"/><polygon points="1331.2,2852.9 1363.2,2852.9 1363.2,2885.9 1331.2,2885.9" fill="#808080"/><polygon points="1378.1,2833.2 1410.1,2833.2 1410.1,2866.2 1378.1,2866.2" fill="#808080"/><polygon points="1425.1,2813.5 1457.1,2813.5 1457.1,2846.5 1425.1,2846.5" fill="#808080"/><polygon points="1472.0,2793.8 1504.0,2793.8 1504.0,2826.8 1472.0,2826.8" fill="#808080"/><polygon points="1519.0,2774.1 1551.0,2774.1 1551.0,2807.1 1519.0,2807.1" fill="#808080"/><polygon points="1565.9,2754.6 1597.9,2754.6 1597.9,2787.6 1565.9,2787.6" fill="#808080"/><polygon points="1612.9,2735.4 1644.9,2735.4 1644.9,2768.4 1612.9,2768.4" fill="#808080"/><polygon points="1659.8,2716.3 1691.8,2716.3 1691.8,2749.3 1659.8,2749.3" fill="#808080"/><polygon points="1706.8,2697.1 1738.8,2697.1 1738.8,2730.1 1706.8,2730.1" fill="#808080"/><polygon points="1753.7,2677.9 1785.7,2677.9 1785.7,2710.9 1753.7,2710.9" fill="#808080"/><polygon points="1800.7,2658.8 1832.7,2658.8 1832.7,2691.8 1800.7,2691.8" fill="#808080"/><polygon points="1847.6,2639.6 1879.6,2639.6 1879.6,2672.6 1847.6,2672.6" fill="#808080"/><polygon points="1894.6,2620.5 1926.6,2620.5 1926.6,2653.5 1894.6,2653.5" fill="#808080"/><polygon points="1941.5,2601.3 1973.5,2601.3 1973.5,2634.3 1941.5,2634.3" fill="#808080"/><polygon points="1988.5,2582.2 2020.5,2582.2 2020.5,2615.2 1988.5,2615.2" fill="#808080"/>
<polyline fill="none" stroke="#00ff00" stroke-width="5" stroke-linejoin="round" points="502.0,3202.2 549.0,3137.0 595.9,3126.0 642.9,3128.2 689.8,3122.9 736.8,3101.1 783.7,3074.6 830.7,3049.6 877.6,3019.9 924.6,2993.2 971.5,2968.1 1018.5,2942.5 1065.4,2917.7 1112.4,2890.5 1159.3,2866.1 1206.3,2838.7 1253.2,2811.3 1300.2,2783.9 1347.2,2756.5 1394.1,2729.1 1441.1,2701.7 1488.0,2674.3 1535.0,2647.2 1581.9,2620.0 1628.9,2592.9 1675.8,2565.7 1722.8,2538.5 1769.7,2511.4 1816.7,2484.2 1863.6,2456.2 1910.6,2428.3 1957.5,2400.3 2004.5,2372.3"/><polygon points="482.0,3213.7 522.0,3213.7 502.0,3179.1" fill="#00ff00"/><polygon points="529.0,3148.5 569.0,3148.5 549.0,3113.9" fill="#00ff00"/><polygon points="575.9,3137.5 615.9,3137.5 595.9,3102.9" fill="#00ff00"/><polygon points="622.9,3139.7 662.9,3139.7 642.9,3105.1" fill="#00ff00"/><polygon points="669.8,3134.4 709.8,3134.4 689.8,3099.8" fill="#00ff00"/><polygon points="716.8,3112.6 756.8,3112.6 736.8,3078.0" fill="#00ff00"/><polygon points="763.7,3086.1 803.7,3086.1 783.7,3051.5" fill="#00ff00"/><polygon points="810.7,3061.1 850.7,3061.1 830.7,3026.5" fill="#00ff00"/><polygon points="857.6,3031.4 897.6,3031.4 877.6,2996.8" fill="#00ff00"/><polygon points="904.6,3004.7 944.6,3004.7 924.6,2970.1" fill="#00ff00"/><polygon points="951.5,2979.6 991.5,2979.6 971.5,2945.0" fill="#00ff00"/><polygon points="998.5,2954.0 1038.5,2954.0 1018.5,2919.4" fill="#00ff00"/><polygon points="1045.4,2929.2 1085.4,2929.2 1065.4,2894.6" fill="#00ff00"/><polygon points="1092.4,2902.0 1132.4,2902.0 1112.4,2867.4" fill="#00ff00"/><polygon points="1139.3,2877.6 1179.3,2877.6 1159.3,2843.0" fill="#00ff00"/><polygon points="1186.3,2850.2 1226.3,2850.2 1206.3,2815.6" fill="#00ff00"/><polygon points="1233.2,2822.8 1273.2,2822.8 1253.2,2788.2" fill="#00ff00"/><polygon points="1280.2,2795.4 1320.2,2795.4 1300.2,2760.8" fill="#00ff00"/><polygon points="1327.2,2768.0 1367.2,2768.0 1347.2,2733.4" fill="#00ff00"/><polygon points="1374.1,2740.6 1414.1,2740.6 1394.1,2706.0" fill="#00ff00"/><polygon points="1421.1,2713.2 1461.1,2713.2 1441.1,2678.6" fill="#00ff00"/><polygon points="1468.0,2685.8 1508.0,2685.8 1488.0,2651.2" fill="#00ff00"/><polygon points="1515.0,2658.7 1555.0,2658.7 1535.0,2624.1" fill="#00ff00"/><polygon points="1561.9,2631.5 1601.9,2631.5 1581.9,2596.9" fill="#00ff00"/><polygon points="1608.9,2604.4 1648.9,2604.4 1628.9,2569.8" fill="#00ff00"/><polygon points="1655.8,2577.2 1695.8,2577.2 1675.8,2542.6" fill="#00ff00"/><polygon points="1702.8,2550.0 1742.8,2550.0 1722.8,2515.4" fill="#00ff00"/><polygon points="1749.7,2522.9 1789.7,2522.9 1769.7,2488.3" fill="#00ff00"/><polygon points="1796.7,2495.7 1836.7,2495.7 1816.7,2461.1" fill="#00ff00"/><polygon points="1843.6,2467.7 1883.6,2467.7 1863.6,2433.1" fill="#00ff00"/><polygon points="1890.6,2439.8 1930.6,2439.8 1910.6,2405.2" fill="#00ff00"/><polygon points="1937.5,2411.8 1977.5,2411.8 1957.5,2377.2" fill="#00ff00"/><polygon points="1984.5,2383.8 2024.5,2383.8 2004.5,2349.2" fill="#00ff00"/>
<polyline fill="none" stroke="#00ff00" stroke-width="5" stroke-linejoin="round" points="502.0,3202.2 549.0,3137.0 595.9,3126.0 642.9,3105.3 689.8,3085.9 736.8,3072.7 783.7,3041.4 830.7,3011.6 877.6,2976.8 924.6,2948.5 971.5,2920.0 1018.5,2890.9 1065.4,2865.7 1112.4,2839.1 1159.3,2812.6 1206.3,2786.1 1253.2,2759.5 1300.2,2733.0 1347.2,2706.4 1394.1,2679.9 1441.1,2653.3 1488.0,2626.8 1535.0,2601.8 1581.9,2576.7 1628.9,2551.7 1675.8,2526.6 1722.8,2501.5 1769.7,2476.5 1816.7,2451.4 1863.6,2426.4 1910.6,2401.3 1957.5,2376.2 2004.5,2351.2"/><polygon points="482.0,3213.7 522.0,3213.7 502.0,3179.1" fill="#00ff00"/><polygon points="529.0,3148.5 569.0,3148.5 549.0,3113.9" fill="#00ff00"/><polygon points="575.9,3137.5 615.9,3137.5 595.9,3102.9" fill="#00ff00"/><polygon points="622.9,3116.8 662.9,3116.8 642.9,3082.2" fill="#00ff00"/><polygon points="669.8,3097.4 709.8,3097.4 689.8,3062.8" fill="#00ff00"/><polygon points="716.8,3084.2 756.8,3084.2 736.8,3049.6" fill="#00ff00"/><polygon points="763.7,3052.9 803.7,3052.9 783.7,3018.3" fill="#00ff00"/><polygon points="810.7,3023.1 850.7,3023.1 830.7,2988.5" fill="#00ff00"/><polygon points="857.6,2988.3 897.6,2988.3 877.6,2953.7" fill="#00ff00"/><polygon points="904.6,2960.0 944.6,2960.0 924.6,2925.4" fill="#00ff00"/><polygon points="951.5,2931.5 991.5,2931.5 971.5,2896.9" fill="#00ff00"/><polygon points="998.5,2902.4 1038.5,2902.4 1018.5,2867.8" fill="#00ff00"/><polygon points="1045.4,2877.2 1085.4,2877.2 1065.4,2842.6" fill="#00ff00"/><polygon points="1092.4,2850.6 1132.4,2850.6 1112.4,2816.0" fill="#00ff00"/><polygon points="1139.3,2824.1 1179.3,2824.1 1159.3,2789.5" fill="#00ff00"/><polygon points="1186.3,2797.6 1226.3,2797.6 1206.3,2763.0" fill="#00ff00"/><polygon points="1233.2,2771.0 1273.2,2771.0 1253.2,2736.4" fill="#00ff00"/><polygon points="1280.2,2744.5 1320.2,2744.5 1300.2,2709.9" fill="#00ff00"/><polygon points="1327.2,2717.9 1367.2,2717.9 1347.2,2683.3" fill="#00ff00"/><polygon points="1374.1,2691.4 1414.1,2691.4 1394.1,2656.8" fill="#00ff00"/><polygon points="1421.1,2664.8 1461.1,2664.8 1441.1,2630.2" fill="#00ff00"/><polygon points="1468.0,2638.3 1508.0,2638.3 1488.0,2603.7" fill="#00ff00"/><polygon points="1515.0,2613.3 1555.0,2613.3 1535.0,2578.7" fill="#00ff00"/><polygon points="1561.9,2588.2 1601.9,2588.2 1581.9,2553.6" fill="#00ff00"/><polygon points="1608.9,2563.2 1648.9,2563.2 1628.9,2528.6" fill="#00ff00"/><polygon points="1655.8,2538.1 1695.8,2538.1 1675.8,2503.5" fill="#00ff00"/><polygon points="1702.8,2513.0 1742.8,2513.0 1722.8,2478.4" fill="#00ff00"/><polygon points="1749.7,2488.0 1789.7,2488.0 1769.7,2453.4" fill="#00ff00"/><polygon points="1796.7,2462.9 1836.7,2462.9 1816.7,2428.3" fill="#00ff00"/><polygon points="1843.6,2437.9 1883.6,2437.9 1863.6,2403.3" fill="#00ff00"/><polygon points="1890.6,2412.8 1930.6,2412.8 1910.6,2378.2" fill="#00ff00"/><polygon points="1937.5,2387.7 1977.5,2387.7 1957.5,2353.1" fill="#00ff00"/><polygon points="1984.5,2362.7 2024.5,2362.7 2004.5,2328.1" fill="#00ff00"/>
<polyline fill="none" stroke="#ff0000" stroke-width="5" stroke-linejoin="round" points="502.0,3222.5 549.0,3198.7 595.9,3178.4 642.9,3153.8 689.8,3133.5 736.8,3111.3 783.7,3089.0 830.7,3066.8 877.6,3044.5 924.6,3023.7 971.5,3002.8 1018.5,2982.0 1065.4,2961.1 1112.4,2940.3 1159.3,2919.4 1206.3,2898.6 1253.2,2877.7 1300.2,2856.9 1347.2,2836.0 1394.1,2815.2 1441.1,2794.3 1488.0,2773.4 1535.0,2752.6 1581.9,2731.9 1628.9,2711.3 1675.8,2690.6 1722.8,2669.9 1769.7,2649.2 1816.7,2628.6 1863.6,2607.9 1910.6,2587.2 1957.5,2566.6 2004.5,2545.9"/><polygon points="482.0,3211.0 522.0,3211.0 502.0,3245.6" fill="#ff0000"/><polygon points="529.0,3187.2 569.0,3187.2 549.0,3221.8" fill="#ff0000"/><polygon points="575.9,3166.9 615.9,3166.9 595.9,3201.5" fill="#ff0000"/><polygon points="622.9,3142.3 662.9,3142.3 642.9,3176.9" fill="#ff0000"/><polygon points="669.8,3122.0 709.8,3122.0 689.8,3156.6" fill="#ff0000"/><polygon points="716.8,3099.8 756.8,3099.8 736.8,3134.4" fill="#ff0000"/><polygon points="763.7,3077.5 803.7,3077.5 783.7,3112.1" fill="#ff0000"/><polygon points="810.7,3055.3 850.7,3055.3 830.7,3089.9" fill="#ff0000"/><polygon points="857.6,3033.0 897.6,3033.0 877.6,3067.6" fill="#ff0000"/><polygon points="904.6,3012.2 944.6,3012.2 924.6,3046.8" fill="#ff0000"/><polygon points="951.5,2991.3 991.5,2991.3 971.5,3025.9" fill="#ff0000"/><polygon points="998.5,2970.5 1038.5,2970.5 1018.5,3005.1" fill="#ff0000"/><polygon points="1045.4,2949.6 1085.4,2949.6 1065.4,2984.2" fill="#ff0000"/><polygon points="1092.4,2928.8 1132.4,2928.8 1112.4,2963.4" fill="#ff0000"/><polygon points="1139.3,2907.9 1179.3,2907.9 1159.3,2942.5" fill="#ff0000"/><polygon points="1186.3,2887.1 1226.3,2887.1 1206.3,2921.7" fill="#ff0000"/><polygon points="1233.2,2866.2 1273.2,2866.2 1253.2,2900.8" fill="#ff0000"/><polygon points="1280.2,2845.4 1320.2,2845.4 1300.2,2880.0" fill="#ff0000"/><polygon points="1327.2,2824.5 1367.2,2824.5 1347.2,2859.1" fill="#ff0000"/><polygon points="1374.1,2803.7 1414.1,2803.7 1394.1,2838.3" fill="#ff0000"/><polygon points="1421.1,2782.8 1461.1,2782.8 1441.1,2817.4" fill="#ff0000"/><polygon points="1468.0,2761.9 1508.0,2761.9 1488.0,2796.5" fill="#ff0000"/><polygon points="1515.0,2741.1 1555.0,2741.1 1535.0,2775.7" fill="#ff0000"/><polygon points="1561.9,2720.4 1601.9,2720.4 1581.9,2755.0" fill="#ff0000"/><polygon points="1608.9,2699.8 1648.9,2699.8 1628.9,2734.4" fill="#ff0000"/><polygon points="1655.8,2679.1 1695.8,2679.1 1675.8,2713.7" fill="#ff0000"/><polygon points="1702.8,2658.4 1742.8,2658.4 1722.8,2693.0" fill="#ff0000"/><polygon points="1749.7,2637.7 1789.7,2637.7 1769.7,2672.3" fill="#ff0000"/><polygon points="1796.7,2617.1 1836.7,2617.1 1816.7,2651.7" fill="#ff0000"/><polygon points="1843.6,2596.4 1883.6,2596.4 1863.6,2631.0" fill="#ff0000"/><polygon points="1890.6,2575.7 1930.6,2575.7 1910.6,2610.3" fill="#ff0000"/><polygon points="1937.5,2555.1 1977.5,2555.1 1957.5,2589.7" fill="#ff0000"/><polygon points="1984.5,2534.4 2024.5,2534.4 2004.5,2569.0" fill="#ff0000"/>
<polyline fill="none" stroke="#0000ff" stroke-width="5" stroke-linejoin="round" points="502.0,3222.5 549.0,3185.1 595.9,3147.6 642.9,3111.1 689.8,3074.5 736.8,3037.0 783.7,3000.9 830.7,2965.7 877.6,2929.5 924.6,2895.0 971.5,2860.4 1018.5,2824.4 1065.4,2788.3 1112.4,2752.2 1159.3,2716.1 1206.3,2680.0 1253.2,2643.9 1300.2,2607.8 1347.2,2571.7 1394.1,2535.6 1441.1,2499.5 1488.0,2463.5 1535.0,2428.7 1581.9,2394.0 1628.9,2359.3 1675.8,2324.6 1722.8,2289.9 1769.7,2255.2 1816.7,2219.6 1863.6,2184.0 1910.6,2148.4 1957.5,2112.8 2004.5,2077.2"/><polygon points="502.0,3201.0 523.5,3222.5 502.0,3244.0 480.5,3222.5" fill="#0000ff"/><polygon points="549.0,3163.6 570.5,3185.1 549.0,3206.6 527.5,3185.1" fill="#0000ff"/><polygon points="595.9,3126.1 617.4,3147.6 595.9,3169.1 574.4,3147.6" fill="#0000ff"/><polygon points="642.9,3089.6 664.4,3111.1 642.9,3132.6 621.4,3111.1" fill="#0000ff"/><polygon points="689.8,3053.0 711.3,3074.5 689.8,3096.0 668.3,3074.5" fill="#0000ff"/><polygon points="736.8,3015.5 758.3,3037.0 736.8,3058.5 715.3,3037.0" fill="#0000ff"/><polygon points="783.7,2979.4 805.2,3000.9 783.7,3022.4 762.2,3000.9" fill="#0000ff"/><polygon points="830.7,2944.2 852.2,2965.7 830.7,2987.2 809.2,2965.7" fill="#0000ff"/><polygon points="877.6,2908.0 899.1,2929.5 877.6,2951.0 856.1,2929.5" fill="#0000ff"/><polygon points="924.6,2873.5 946.1,2895.0 924.6,2916.5 903.1,2895.0" fill="#0000ff"/><polygon points="971.5,2838.9 993.0,2860.4 971.5,2881.9 950.0,2860.4" fill="#0000ff"/><polygon points="1018.5,2802.9 1040.0,2824.4 1018.5,2845.9 997.0,2824.4" fill="#0000ff"/><polygon points="1065.4,2766.8 1086.9,2788.3 1065.4,2809.8 1043.9,2788.3" fill="#0000ff"/><polygon points="1112.4,2730.7 1133.9,2752.2 1112.4,2773.7 1090.9,2752.2" fill="#0000ff"/><polygon points="1159.3,2694.6 1180.8,2716.1 1159.3,2737.6 1137.8,2716.1" fill="#0000ff"/><polygon points="1206.3,2658.5 1227.8,2680.0 1206.3,2701.5 1184.8,2680.0" fill="#0000ff"/><polygon points="1253.2,2622.4 1274.8,2643.9 1253.2,2665.4 1231.8,2643.9" fill="#0000ff"/><polygon points="1300.2,2586.3 1321.7,2607.8 1300.2,2629.3 1278.7,2607.8" fill="#0000ff"/><polygon points="1347.2,2550.2 1368.7,2571.7 1347.2,2593.2 1325.7,2571.7" fill="#0000ff"/><polygon points="1394.1,2514.1 1415.6,2535.6 1394.1,2557.1 1372.6,2535.6" fill="#0000ff"/><polygon points="1441.1,2478.0 1462.6,2499.5 1441.1,2521.0 1419.6,2499.5" fill="#0000ff"/><polygon points="1488.0,2442.0 1509.5,2463.5 1488.0,2485.0 1466.5,2463.5" fill="#0000ff"/><polygon points="1535.0,2407.2 1556.5,2428.7 1535.0,2450.2 1513.5,2428.7" fill="#0000ff"/><polygon points="1581.9,2372.5 1603.4,2394.0 1581.9,2415.5 1560.4,2394.0" fill="#0000ff"/><polygon points="1628.9,2337.8 1650.4,2359.3 1628.9,2380.8 1607.4,2359.3" fill="#0000ff"/><polygon points="1675.8,2303.1 1697.3,2324.6 1675.8,2346.1 1654.3,2324.6" fill="#0000ff"/><polygon points="1722.8,2268.4 1744.3,2289.9 1722.8,2311.4 1701.3,2289.9" fill="#0000ff"/><polygon points="1769.7,2233.7 1791.2,2255.2 1769.7,2276.7 1748.2,2255.2" fill="#0000ff"/><polygon points="1816.7,2198.1 1838.2,2219.6 1816.7,2241.1 1795.2,2219.6" fill="#0000ff"/><polygon points="1863.6,2162.5 1885.1,2184.0 1863.6,2205.5 1842.1,2184.0" fill="#0000ff"/><polygon points="1910.6,2126.9 1932.1,2148.4 1910.6,2169.9 1889.1,2148.4" fill="#0000ff"/><polygon points="1957.5,2091.3 1979.0,2112.8 1957.5,2134.3 1936.0,2112.8" fill="#0000ff"/><polygon points="2004.5,2055.7 2026.0,2077.2 2004.5,2098.7 1983.0,2077.2" fill="#0000ff"/>
<polyline fill="none" stroke="#00ffff" stroke-width="5" stroke-linejoin="round" points="502.0,3222.5 549.0,3203.1 595.9,3186.4 642.9,3169.6 689.8,3153.8 736.8,3137.9 783.7,3120.7 830.7,3101.8 877.6,3083.7 924.6,3064.6 971.5,3045.5 1018.5,3026.4 1065.4,3007.3 1112.4,2988.2 1159.3,2969.1 1206.3,2950.0 1253.2,2930.9 1300.2,2912.0 1347.2,2893.1 1394.1,2874.2 1441.1,2855.4 1488.0,2836.5 1535.0,2817.6 1581.9,2798.7 1628.9,2780.5 1675.8,2762.3 1722.8,2744.1 1769.7,2725.9 1816.7,2707.7 1863.6,2689.5 1910.6,2671.3 1957.5,2653.1 2004.5,2634.9"/><polygon points="514.4,3201.0 477.2,3222.5 514.4,3244.0" fill="#00ffff"/><polygon points="561.4,3181.6 524.2,3203.1 561.4,3224.6" fill="#00ffff"/><polygon points="608.3,3164.9 571.1,3186.4 608.3,3207.9" fill="#00ffff"/><polygon points="655.3,3148.1 618.1,3169.6 655.3,3191.1" fill="#00ffff"/><polygon points="702.2,3132.3 665.0,3153.8 702.2,3175.3" fill="#00ffff"/><polygon points="749.2,3116.4 712.0,3137.9 749.2,3159.4" fill="#00ffff"/><polygon points="796.1,3099.2 758.9,3120.7 796.1,3142.2" fill="#00ffff"/><polygon points="843.1,3080.3 805.9,3101.8 843.1,3123.3" fill="#00ffff"/><polygon points="890.0,3062.2 852.8,3083.7 890.0,3105.2" fill="#00ffff"/><polygon points="937.0,3043.1 899.8,3064.6 937.0,3086.1" fill="#00ffff"/><polygon points="983.9,3024.0 946.7,3045.5 983.9,3067.0" fill="#00ffff"/><polygon points="1030.9,3004.9 993.7,3026.4 1030.9,3047.9" fill="#00ffff"/><polygon points="1077.8,2985.8 1040.6,3007.3 1077.8,3028.8" fill="#00ffff"/><polygon points="1124.8,2966.7 1087.6,2988.2 1124.8,3009.7" fill="#00ffff"/><polygon points="1171.7,2947.6 1134.5,2969.1 1171.7,2990.6" fill="#00ffff"/><polygon points="1218.7,2928.5 1181.5,2950.0 1218.7,2971.5" fill="#00ffff"/><polygon points="1265.7,2909.4 1228.5,2930.9 1265.7,2952.4" fill="#00ffff"/><polygon points="1312.6,2890.5 1275.4,2912.0 1312.6,2933.5" fill="#00ffff"/><polygon points="1359.6,2871.6 1322.4,2893.1 1359.6,2914.6" fill="#00ffff"/><polygon points="1406.5,2852.7 1369.3,2874.2 1406.5,2895.7" fill="#00ffff"/><polygon points="1453.5,2833.9 1416.3,2855.4 1453.5,2876.9" fill="#00ffff"/><polygon points="1500.4,2815.0 1463.2,2836.5 1500.4,2858.0" fill="#00ffff"/><polygon points="1547.4,2796.1 1510.2,2817.6 1547.4,2839.1" fill="#00ffff"/><polygon points="1594.3,2777.2 1557.1,2798.7 1594.3,2820.2" fill="#00ffff"/><polygon points="1641.3,2759.0 1604.1,2780.5 1641.3,2802.0" fill="#00ffff"/><polygon points="1688.2,2740.8 1651.0,2762.3 1688.2,2783.8" fill="#00ffff"/><polygon points="1735.2,2722.6 1698.0,2744.1 1735.2,2765.6" fill="#00ffff"/><polygon points="1782.1,2704.4 1744.9,2725.9 1782.1,2747.4" fill="#00ffff"/><polygon points="1829.1,2686.2 1791.9,2707.7 1829.1,2729.2" fill="#00ffff"/><polygon points="1876.0,2668.0 1838.8,2689.5 1876.0,2711.0" fill="#00ffff"/><polygon points="1923.0,2649.8 1885.8,2671.3 1923.0,2692.8" fill="#00ffff"/><polygon points="1969.9,2631.6 1932.7,2653.1 1969.9,2674.6" fill="#00ffff"/><polygon points="2016.9,2613.4 1979.7,2634.9 2016.9,2656.4" fill="#00ffff"/>
<polyline fill="none" stroke="#000000" stroke-width="5" stroke-linejoin="round" points="502.0,3222.5 549.0,3197.4 595.9,3176.7 642.9,3151.1 689.8,3130.4 736.8,3107.7 783.7,3085.0 830.7,3062.2 877.6,3039.5 924.6,3018.5 971.5,2997.4 1018.5,2976.3 1065.4,2955.3 1112.4,2934.2 1159.3,2913.1 1206.3,2892.1 1253.2,2871.0 1300.2,2850.0 1347.2,2828.9 1394.1,2807.8 1441.1,2786.8 1488.0,2765.7 1535.0,2744.7 1581.9,2723.9 1628.9,2703.1 1675.8,2682.4 1722.8,2661.6 1769.7,2640.9 1816.7,2620.1 1863.6,2599.4 1910.6,2578.6 1957.5,2557.8 2004.5,2537.1"/><polygon points="490.5,3202.5 525.1,3222.5 490.5,3242.5" fill="#000000"/><polygon points="537.5,3177.4 572.1,3197.4 537.5,3217.4" fill="#000000"/><polygon points="584.4,3156.7 619.0,3176.7 584.4,3196.7" fill="#000000"/><polygon points="631.4,3131.1 666.0,3151.1 631.4,3171.1" fill="#000000"/><polygon points="678.3,3110.4 712.9,3130.4 678.3,3150.4" fill="#000000"/><polygon points="725.3,3087.7 759.9,3107.7 725.3,3127.7" fill="#000000"/><polygon points="772.2,3065.0 806.8,3085.0 772.2,3105.0" fill="#000000"/><polygon points="819.2,3042.2 853.8,3062.2 819.2,3082.2" fill="#000000"/><polygon points="866.1,3019.5 900.7,3039.5 866.1,3059.5" fill="#000000"/><polygon points="913.1,2998.5 947.7,3018.5 913.1,3038.5" fill="#000000"/><polygon points="960.0,2977.4 994.6,2997.4 960.0,3017.4" fill="#000000"/><polygon points="1007.0,2956.3 1041.6,2976.3 1007.0,2996.3" fill="#000000"/><polygon points="1053.9,2935.3 1088.5,2955.3 1053.9,2975.3" fill="#000000"/><polygon points="1100.9,2914.2 1135.5,2934.2 1100.9,2954.2" fill="#000000"/><polygon points="1147.8,2893.1 1182.4,2913.1 1147.8,2933.1" fill="#000000"/><polygon points="1194.8,2872.1 1229.4,2892.1 1194.8,2912.1" fill="#000000"/><polygon points="1241.8,2851.0 1276.3,2871.0 1241.8,2891.0" fill="#000000"/><polygon points="1288.7,2830.0 1323.3,2850.0 1288.7,2870.0" fill="#000000"/><polygon points="1335.7,2808.9 1370.3,2828.9 1335.7,2848.9" fill="#000000"/><polygon points="1382.6,2787.8 1417.2,2807.8 1382.6,2827.8" fill="#000000"/><polygon points="1429.6,2766.8 1464.2,2786.8 1429.6,2806.8" fill="#000000"/><polygon points="1476.5,2745.7 1511.1,2765.7 1476.5,2785.7" fill="#000000"/><polygon points="1523.5,2724.7 1558.1,2744.7 1523.5,2764.7" fill="#000000"/><polygon points="1570.4,2703.9 1605.0,2723.9 1570.4,2743.9" fill="#000000"/><polygon points="1617.4,2683.1 1652.0,2703.1 1617.4,2723.1" fill="#000000"/><polygon points="1664.3,2662.4 1698.9,2682.4 1664.3,2702.4" fill="#000000"/><polygon points="1711.3,2641.6 1745.9,2661.6 1711.3,2681.6" fill="#000000"/><polygon points="1758.2,2620.9 1792.8,2640.9 1758.2,2660.9" fill="#000000"/><polygon points="1805.2,2600.1 1839.8,2620.1 1805.2,2640.1" fill="#000000"/><polygon points="1852.1,2579.4 1886.7,2599.4 1852.1,2619.4" fill="#000000"/><polygon points="1899.1,2558.6 1933.7,2578.6 1899.1,2598.6" fill="#000000"/><polygon points="1946.0,2537.8 1980.6,2557.8 1946.0,2577.8" fill="#000000"/><polygon points="1993.0,2517.1 2027.6,2537.1 1993.0,2557.1" fill="#000000"/>
</g>
<path d="M427.8,1989.0H2230.4V3398.5H427.8Z" fill="none" stroke="#000" stroke-width="11" stroke-linejoin="miter"/>
<path d="M398.3,3398.7H427.8M398.3,3222.5H427.8M398.3,3046.3H427.8M398.3,2870.1H427.8M398.3,2693.9H427.8M398.3,2517.7H427.8M398.3,2341.5H427.8M398.3,2165.3H427.8M398.3,1989.1H427.8M413.8,3310.6H427.8M413.8,3134.4H427.8M413.8,2958.2H427.8M413.8,2782.0H427.8M413.8,2605.8H427.8M413.8,2429.6H427.8M413.8,2253.4H427.8M413.8,2077.2H427.8M502.0,3398.5V3425.5M652.2,3398.5V3412.5M802.5,3398.5V3425.5M952.8,3398.5V3412.5M1103.0,3398.5V3425.5M1253.2,3398.5V3412.5M1403.5,3398.5V3425.5M1553.8,3398.5V3412.5M1704.0,3398.5V3425.5M1854.2,3398.5V3412.5M2004.5,3398.5V3425.5M2154.8,3398.5V3412.5" fill="none" stroke="#000" stroke-width="11" stroke-linecap="butt"/>
<text x="377.0" y="3423.7" font-size="85" text-anchor="end" font-weight="bold" font-style="normal" fill="#000" >-0.2</text>
<text x="377.0" y="3247.5" font-size="85" text-anchor="end" font-weight="bold" font-style="normal" fill="#000" >0.0</text>
<text x="377.0" y="3071.3" font-size="85" text-anchor="end" font-weight="bold" font-style="normal" fill="#000" >0.2</text>
<text x="377.0" y="2895.1" font-size="85" text-anchor="end" font-weight="bold" font-style="normal" fill="#000" >0.4</text>
<text x="377.0" y="2718.9" font-size="85" text-anchor="end" font-weight="bold" font-style="normal" fill="#000" >0.6</text>
<text x="377.0" y="2542.7" font-size="85" text-anchor="end" font-weight="bold" font-style="normal" fill="#000" >0.8</text>
<text x="377.0" y="2366.5" font-size="85" text-anchor="end" font-weight="bold" font-style="normal" fill="#000" >1.0</text>
<text x="377.0" y="2190.3" font-size="85" text-anchor="end" font-weight="bold" font-style="normal" fill="#000" >1.2</text>
<text x="377.0" y="2014.1" font-size="85" text-anchor="end" font-weight="bold" font-style="normal" fill="#000" >1.4</text>
<text x="502.0" y="3509.0" font-size="83" text-anchor="middle" font-weight="bold" font-style="normal" fill="#000" >0</text>
<text x="802.5" y="3509.0" font-size="83" text-anchor="middle" font-weight="bold" font-style="normal" fill="#000" >20</text>
<text x="1103.0" y="3509.0" font-size="83" text-anchor="middle" font-weight="bold" font-style="normal" fill="#000" >40</text>
<text x="1403.5" y="3509.0" font-size="83" text-anchor="middle" font-weight="bold" font-style="normal" fill="#000" >60</text>
<text x="1704.0" y="3509.0" font-size="83" text-anchor="middle" font-weight="bold" font-style="normal" fill="#000" >80</text>
<text x="2004.5" y="3509.0" font-size="83" text-anchor="middle" font-weight="bold" font-style="normal" fill="#000" >100</text>
<text x="72.7" y="2045.6" font-size="169" text-anchor="start" font-weight="bold" font-style="normal" fill="#000" >B</text>
<text x="1329.0" y="3685.0" font-size="113" text-anchor="middle" font-weight="bold" font-style="normal" fill="#800000" letter-spacing="0.5">Shear Rate (s<tspan dy="-44" font-size="74">-1</tspan><tspan dy="44">)</tspan></text>
<text transform="translate(203.7,2693) rotate(-90)" x="0" y="0" font-size="113" text-anchor="middle" font-weight="bold" fill="#800000" textLength="807" lengthAdjust="spacingAndGlyphs">Shear Stress (Pa)</text>
<line x1="511.2" y1="2075.6" x2="684.8" y2="2075.6" stroke="#000000" stroke-width="5.5"/>
<polygon points="586.5,2055.6 621.1,2075.6 586.5,2095.6" fill="#000000"/>
<text x="700.0" y="2099.5" font-size="76" text-anchor="start" font-weight="bold" font-style="italic" fill="#000" >β-P</text>
<line x1="511.2" y1="2166.1" x2="684.8" y2="2166.1" stroke="#ff0000" stroke-width="5.5"/>
<polygon points="578.0,2154.6 618.0,2154.6 598.0,2189.2" fill="#ff0000"/>
<text x="700.0" y="2190.0" font-size="76" text-anchor="start" font-weight="bold" font-style="italic" fill="#000" >121</text>
<line x1="511.2" y1="2256.6" x2="684.8" y2="2256.6" stroke="#0000ff" stroke-width="5.5"/>
<polygon points="598.0,2235.1 619.5,2256.6 598.0,2278.1 576.5,2256.6" fill="#0000ff"/>
<text x="700.0" y="2280.5" font-size="76" text-anchor="start" font-weight="bold" font-style="italic" fill="#000" >150</text>
<line x1="511.2" y1="2347.1" x2="684.8" y2="2347.1" stroke="#808080" stroke-width="5.5"/>
<polygon points="582.0,2330.6 614.0,2330.6 614.0,2363.6 582.0,2363.6" fill="#808080"/>
<text x="700.0" y="2371.0" font-size="76" text-anchor="start" font-weight="bold" font-style="italic" fill="#000" >101</text>
<line x1="511.2" y1="2437.6" x2="684.8" y2="2437.6" stroke="#00ffff" stroke-width="5.5"/>
<polygon points="610.4,2416.1 573.2,2437.6 610.4,2459.1" fill="#00ffff"/>
<text x="700.0" y="2461.5" font-size="76" text-anchor="start" font-weight="bold" font-style="italic" fill="#000" >13CG</text>
<line x1="511.2" y1="2528.1" x2="684.8" y2="2528.1" stroke="#00ff00" stroke-width="5.5"/>
<polygon points="578.0,2539.6 618.0,2539.6 598.0,2505.0" fill="#00ff00"/>
<text x="700.0" y="2552.0" font-size="76" text-anchor="start" font-weight="bold" font-style="italic" fill="#000" >104</text>
<text x="2045.0" y="2071.8" font-size="74" text-anchor="start" font-weight="bold" font-style="normal" fill="#0000ff" >0.18</text>
<text x="2042.0" y="2344.1" font-size="74" text-anchor="start" font-weight="bold" font-style="normal" fill="#00ff00" >5.05</text>
<text x="1861.0" y="2520.6" font-size="74" text-anchor="start" font-weight="bold" font-style="normal" fill="#000000" >0.01</text>
<text x="2039.0" y="2511.8" font-size="74" text-anchor="start" font-weight="normal" font-style="normal" fill="#ff0000" >0.03</text>
<text x="2042.0" y="2584.7" font-size="74" text-anchor="start" font-weight="bold" font-style="normal" fill="#808080" >0.12</text>
<text x="2042.0" y="2650.3" font-size="74" text-anchor="start" font-weight="bold" font-style="normal" fill="#00ffff" >0.25</text>
</svg></body></html>
